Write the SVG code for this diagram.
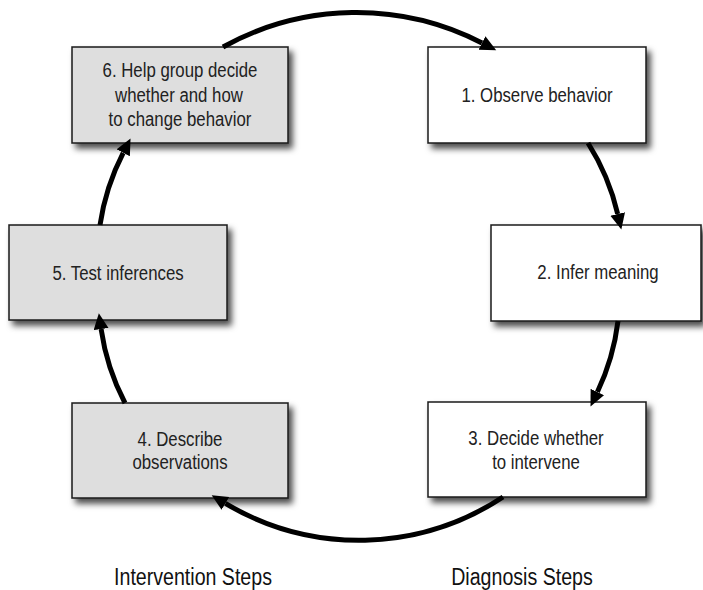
<svg xmlns="http://www.w3.org/2000/svg" width="703" height="590" viewBox="0 0 703 590">
  <defs>
    <filter id="shadow" x="-10%" y="-10%" width="130%" height="140%">
      <feDropShadow dx="4" dy="5" stdDeviation="3" flood-color="#000" flood-opacity="0.7"/>
    </filter>
    <marker id="head" markerUnits="userSpaceOnUse" markerWidth="18" markerHeight="16" refX="0" refY="7.5" orient="auto">
      <path d="M0,0 L16,7.5 L0,15 Z" fill="#000"/>
    </marker>
  </defs>
  <style>
    .box { stroke: #1a1a1a; stroke-width: 1.5; filter: url(#shadow); }
    .diag { fill: #ffffff; }
    .intv { fill: #dedede; }
    .lbl { font-family: "Liberation Sans", Arial, sans-serif; font-size: 21px; fill: #222; text-anchor: middle; }
    .cap { font-family: "Liberation Sans", Arial, sans-serif; font-size: 24.5px; fill: #111; text-anchor: middle; }
    .arc { fill: none; stroke: #000; stroke-width: 5; marker-end: url(#head); }
  </style>

  <rect width="703" height="590" fill="#ffffff"/>

  <!-- Diagnosis steps -->
  <g id="step1">
    <rect class="box diag" x="428" y="47" width="218" height="96"/>
    <text class="lbl" transform="translate(537 102) scale(0.8 1)">1. Observe behavior</text>
  </g>
  <g id="step2">
    <rect class="box diag" x="491" y="225" width="210" height="96"/>
    <text class="lbl" transform="translate(598 279) scale(0.8 1)">2. Infer meaning</text>
  </g>
  <g id="step3">
    <rect class="box diag" x="428" y="402" width="218" height="95"/>
    <text class="lbl" transform="translate(536 445) scale(0.8 1)">3. Decide whether</text>
    <text class="lbl" transform="translate(536 469) scale(0.8 1)">to intervene</text>
  </g>

  <!-- Intervention steps -->
  <g id="step4">
    <rect class="box intv" x="72" y="403" width="216" height="95"/>
    <text class="lbl" transform="translate(180 446) scale(0.8 1)">4. Describe</text>
    <text class="lbl" transform="translate(180 469) scale(0.8 1)">observations</text>
  </g>
  <g id="step5">
    <rect class="box intv" x="9" y="225" width="218" height="95"/>
    <text class="lbl" transform="translate(118 280) scale(0.8 1)">5. Test inferences</text>
  </g>
  <g id="step6">
    <rect class="box intv" x="72" y="47" width="216" height="96"/>
    <text class="lbl" transform="translate(180 77) scale(0.8 1)">6. Help group decide</text>
    <text class="lbl" transform="translate(179 102) scale(0.8 1)">whether and how</text>
    <text class="lbl" transform="translate(180 126) scale(0.8 1)">to change behavior</text>
  </g>

  <!-- Cycle connectors -->
  <g id="connectors">
    <path class="arc" d="M223,47 A275,275 0 0 1 482,43"/>
    <path class="arc" d="M588,143 A230,230 0 0 1 617.7,214"/>
    <path class="arc" d="M618,321 A230,230 0 0 1 597.4,392"/>
    <path class="arc" d="M503,497 A261,261 0 0 1 225.4,503.4"/>
    <path class="arc" d="M125,403 A230,230 0 0 1 101.1,329"/>
    <path class="arc" d="M100,225 A230,230 0 0 1 123.2,152.8"/>
  </g>

  <!-- Group captions -->
  <g id="captions">
    <text class="cap" transform="translate(193 585) scale(0.8 1)">Intervention Steps</text>
    <text class="cap" transform="translate(522 585) scale(0.8 1)">Diagnosis Steps</text>
  </g>
</svg>
